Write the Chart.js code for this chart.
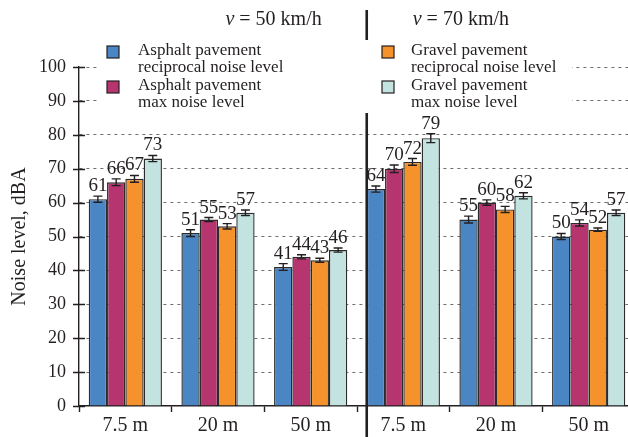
<!DOCTYPE html>
<html>
<head>
<meta charset="utf-8">
<script src="https://cdn.jsdelivr.net/npm/chart.js@4/dist/chart.umd.min.js"></script>
<style>
  html, body { margin: 0; padding: 0; background: #fff; overflow: hidden; }
  #wrap { width: 635px; height: 437px; }
</style>
</head>
<body>
<div id="wrap"><canvas id="noise" width="635" height="437"></canvas></div>
<script>
const distances = ["7.5 m", "20 m", "50 m", "7.5 m", "20 m", "50 m"];
const speeds = ["50 km/h", "70 km/h"];

const seriesNames = [
  ["Asphalt pavement", "reciprocal noise level"],
  ["Asphalt pavement", "max noise level"],
  ["Gravel pavement", "reciprocal noise level"],
  ["Gravel pavement", "max noise level"]
];
const seriesColors = ["#4a85c4", "#b6356f", "#f6922b", "#c3e3e0"];

const asphaltReciprocal = [61, 51, 41, 64, 55, 50];
const asphaltMax = [66, 55, 44, 70, 60, 54];
const gravelReciprocal = [67, 53, 43, 72, 58, 52];
const gravelMax = [73, 57, 46, 79, 62, 57];

// +/- spread for each bar
const asphaltReciprocalErr = [0.9, 1.0, 1.0, 0.9, 1.0, 0.9];
const asphaltMaxErr = [1.0, 0.6, 0.6, 1.1, 0.8, 0.9];
const gravelReciprocalErr = [1.0, 0.8, 0.6, 1.0, 0.9, 0.5];
const gravelMaxErr = [0.9, 0.8, 0.6, 1.3, 0.9, 0.8];

const yTicks = [0, 10, 20, 30, 40, 50, 60, 70, 80, 90, 100];

const serif = "'Liberation Serif', 'Times New Roman', Times, serif";
const ink = "#231f20";

const values = [asphaltReciprocal, asphaltMax, gravelReciprocal, gravelMax];
const errors = [asphaltReciprocalErr, asphaltMaxErr, gravelReciprocalErr, gravelMaxErr];

const datasets = values.map((v, i) => ({
  label: seriesNames[i].join(" "),
  data: v,
  errors: errors[i],
  backgroundColor: seriesColors[i],
  borderColor: "#2b2b2b",
  borderWidth: 1.4,
  borderSkipped: "bottom",
  categoryPercentage: 0.79,
  barPercentage: 1.0
}));

// error bars, value labels, tick marks
const errorBars = {
  id: "errorBars",
  afterDatasetsDraw(chart) {
    const { ctx, scales: { y } } = chart;
    ctx.save();
    chart.data.datasets.forEach((ds, di) => {
      const meta = chart.getDatasetMeta(di);
      meta.data.forEach((bar, i) => {
        const v = ds.data[i], e = ds.errors[i];
        const yHi = y.getPixelForValue(v + e);
        const yLo = y.getPixelForValue(v - e);
        const x = bar.x;
        ctx.strokeStyle = ink;
        ctx.lineWidth = 1.4;
        ctx.beginPath();
        ctx.moveTo(x, yHi); ctx.lineTo(x, yLo);
        ctx.moveTo(x - 4.5, yHi); ctx.lineTo(x + 4.5, yHi);
        ctx.moveTo(x - 4.5, yLo); ctx.lineTo(x + 4.5, yLo);
        ctx.stroke();
        ctx.fillStyle = ink;
        ctx.font = "19px " + serif;
        ctx.textAlign = "center";
        ctx.textBaseline = "alphabetic";
        ctx.fillText(String(v), x, yHi - 5);
      });
    });
    ctx.restore();
  },
  afterDraw(chart) {
    const { ctx, chartArea: area, scales: { x, y } } = chart;
    ctx.save();
    ctx.strokeStyle = ink;
    ctx.lineWidth = 1.4;
    // y ticks crossing the axis
    ctx.beginPath();
    yTicks.forEach(t => {
      const py = Math.round(y.getPixelForValue(t)) + 0.5;
      ctx.moveTo(area.left - 6, py);
      ctx.lineTo(area.left + 6, py);
    });
    ctx.stroke();

    // separator between the two speeds, at the left edge of the 4th group
    const firstBar = chart.getDatasetMeta(0).data[3];
    const sepX = firstBar.x - firstBar.width / 2;
    ctx.lineWidth = 2.6;
    ctx.beginPath();
    ctx.moveTo(sepX, 10);
    ctx.lineTo(sepX, chart.height);
    ctx.stroke();

    // legend panel sits over the top of the plot
    ctx.fillStyle = "#fff";
    ctx.fillRect(97, 40, 475, 73);
    const cols = [{ sq: 107, tx: 138 }, { sq: 382, tx: 411 }];
    ctx.font = "17px " + serif;
    ctx.textAlign = "left";
    ctx.textBaseline = "middle";
    seriesNames.forEach((lines, i) => {
      const c = cols[Math.floor(i / 2)];
      const top = 51 + (i % 2) * 35;
      ctx.fillStyle = seriesColors[i];
      ctx.fillRect(c.sq, top - 5, 12, 12);
      ctx.strokeStyle = ink;
      ctx.lineWidth = 1.2;
      ctx.strokeRect(c.sq, top - 5, 12, 12);
      ctx.fillStyle = ink;
      ctx.fillText(lines[0], c.tx, top);
      ctx.fillText(lines[1], c.tx, top + 17);
    });

    // speed headings either side of the separator
    ctx.textBaseline = "alphabetic";
    ctx.fillStyle = ink;
    const head = (txt, xPos, alignRight) => {
      ctx.font = "italic 20px " + serif;
      const wv = ctx.measureText("v").width;
      ctx.font = "20px " + serif;
      const rest = " = " + txt;
      const wr = ctx.measureText(rest).width;
      const x0 = alignRight ? xPos - wv - wr : xPos;
      ctx.font = "italic 20px " + serif;
      ctx.fillText("v", x0, 25);
      ctx.font = "20px " + serif;
      ctx.fillText(rest, x0 + wv, 25);
    };
    head(speeds[0], sepX - 45, true);
    head(speeds[1], sepX + 46, false);
    ctx.restore();
  }
};

function build() {
  new Chart(document.getElementById("noise"), {
    type: "bar",
    data: { labels: distances, datasets },
    plugins: [errorBars],
    options: {
      responsive: false,
      animation: false,
      layout: { padding: { top: 67, right: 0, left: 0, bottom: 0 } },
      plugins: { legend: { display: false }, tooltip: { enabled: false } },
      scales: {
        x: {
          afterFit(scale) { scale.height = 31; },
          grid: {
            offset: true,
            drawOnChartArea: false,
            tickLength: 6,
            tickColor: ink,
            tickWidth: 1.4
          },
          border: { color: ink, width: 1.4 },
          ticks: { color: ink, font: { family: serif, size: 20 }, padding: 2 }
        },
        y: {
          min: 0,
          max: 100,
          afterFit(scale) { scale.width = 79; },
          afterBuildTicks(scale) { scale.ticks = yTicks.map(v => ({ value: v })); },
          grid: {
            drawTicks: false,
            color: ctx => ctx.tick && ctx.tick.value === 0 ? "rgba(0,0,0,0)" : "#6f6f6f",
            lineWidth: 1
          },
          border: { color: ink, width: 1.4, dash: [3, 4] },
          ticks: { color: ink, font: { family: serif, size: 18 }, padding: 13 },
          title: {
            display: true,
            text: "Noise level, dBA",
            color: ink,
            font: { family: serif, size: 20 },
            padding: { top: 8, bottom: 0 }
          }
        }
      }
    }
  });
}

Promise.all([
  document.fonts.load("19px 'Liberation Serif'"),
  document.fonts.load("italic 19px 'Liberation Serif'")
]).then(build, build);
</script>
</body>
</html>
